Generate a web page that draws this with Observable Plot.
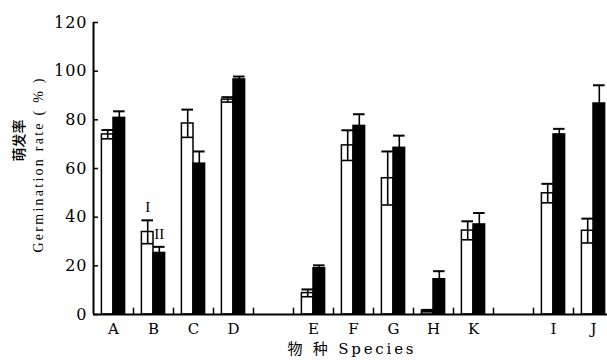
<!DOCTYPE html>
<html>
<head>
<meta charset="utf-8">
<script src="https://cdn.jsdelivr.net/npm/d3@7"></script>
<script src="https://cdn.jsdelivr.net/npm/@observablehq/plot@0.6"></script>
<style>
  html, body { margin: 0; padding: 0; background: #fff; }
  #chart svg { display: block; }
</style>
</head>
<body>
<div id="chart"></div>
<script>
// ---- data ----
const slots = ["A", "B", "C", "D", null, "E", "F", "G", "H", "K", null, "I", "J"];
const categories = ["A", "B", "C", "D", "E", "F", "G", "H", "K", "I", "J"];
const seriesNames = ["I", "II"];
const meanI  = [74, 33.9, 78.5, 88.3, 8.8, 69.5, 56, 1.5, 34.5, 49.8, 34.4];
const sdI    = [1.8, 4.8, 5.7, 1.0, 1.5, 6.2, 11, 0.4, 3.8, 3.9, 5.0];
const meanII = [80.8, 25.3, 62, 96.6, 19, 77.5, 68.5, 14.5, 37, 74, 86.7];
const sdII   = [2.7, 2.5, 5.0, 1.2, 1.2, 4.8, 5.0, 3.3, 4.7, 2.3, 7.5];
const yTicks = [0, 20, 40, 60, 80, 100, 120];
const yTitleCN = "萌发率";
const yTitleEN = "Germination rate ( % )";
const xTitle = "物 种 Species";
const annotations = [{cat: "B", s: "I"}, {cat: "B", s: "II"}];

// ---- build table ----
const barW = 0.29;
const rows = categories.flatMap((c, k) => [
  {cat: c, s: seriesNames[0], v: meanI[k], e: sdI[k]},
  {cat: c, s: seriesNames[1], v: meanII[k], e: sdII[k]}
]);
const left = d => slots.indexOf(d.cat) + (d.s === seriesNames[0] ? -barW : 0);
const right = d => left(d) + barW;
const mid = d => left(d) + barW / 2;
const xDomain = [-0.5, 12.35];
const boundaries = slots.slice(0, -1).map((_, i) => i + 0.5);
const serif = "'DejaVu Serif', 'Liberation Serif', 'Noto Sans CJK SC', serif";
const find = d => rows.find(r => r.cat === d.cat && r.s === d.s);

const chart = Plot.plot({
  width: 607,
  height: 361,
  marginLeft: 93,
  marginRight: 0,
  marginTop: 22,
  marginBottom: 47,
  style: {fontFamily: serif, background: "#fff", color: "#000"},
  x: {type: "linear", domain: xDomain},
  y: {domain: [0, 120]},
  marks: [
    Plot.rectY(rows, {
      x1: left, x2: right, y: "v",
      fill: d => d.s === seriesNames[0] ? "white" : "black",
      stroke: "black", strokeWidth: 1.5
    }),
    Plot.ruleX(rows, {x: mid, y1: d => d.v - d.e, y2: d => d.v + d.e, stroke: "black", strokeWidth: 1.6}),
    Plot.ruleY(rows, {y: d => d.v + d.e, x1: left, x2: right, stroke: "black", strokeWidth: 2}),
    Plot.ruleY(rows, {y: d => d.v - d.e, x1: left, x2: right, stroke: "black", strokeWidth: 1.6}),
    Plot.ruleX(boundaries, {x: d => d, y1: 0, y2: 2.6, stroke: "black", strokeWidth: 1.5}),
    Plot.ruleY([0], {stroke: "black", strokeWidth: 2}),
    Plot.ruleX([xDomain[0]], {stroke: "black", strokeWidth: 2}),
    Plot.axisY({ticks: yTicks, tickSize: 0, tickPadding: 6, fontSize: 16, label: null}),
    Plot.axisY({ticks: yTicks, tickSize: 5, dx: 5, tickFormat: () => "", label: null, strokeWidth: 1.5}),
    Plot.axisX({
      ticks: categories.map(c => slots.indexOf(c)),
      tickFormat: i => slots[i], tickSize: 0, tickPadding: 9, fontSize: 15, label: null
    }),
    Plot.text(annotations, {
      x: d => mid(find(d)),
      y: d => find(d).v + find(d).e,
      text: d => d.s, dy: -13, fontSize: 15, fontFamily: "'Liberation Serif', serif"
    }),
    Plot.text([yTitleCN], {frameAnchor: "left", textAnchor: "middle", rotate: -90, dx: -74, dy: -28, fontSize: 14, fontWeight: 500, fontFamily: "'Noto Sans CJK SC', sans-serif"}),
    Plot.text([yTitleEN], {frameAnchor: "left", textAnchor: "middle", rotate: -90, dx: -55, dy: -3, fontSize: 14, fontFamily: "'Liberation Serif', serif"}),
    Plot.text([xTitle], {frameAnchor: "bottom", dy: 39, fontSize: 15})
  ]
});
document.getElementById("chart").append(chart);
// spacing for the typewriter-like look of the reference
const svg = d3.select(chart);
svg.selectAll("[aria-label='y-axis tick label'] text").style("letter-spacing", "1px");
const byText = t => svg.selectAll("text").filter(function () { return this.textContent === t; });
byText(yTitleEN).attr("textLength", 174).attr("lengthAdjust", "spacing");
byText(xTitle).attr("textLength", 126).attr("lengthAdjust", "spacing");
</script>
</body>
</html>
